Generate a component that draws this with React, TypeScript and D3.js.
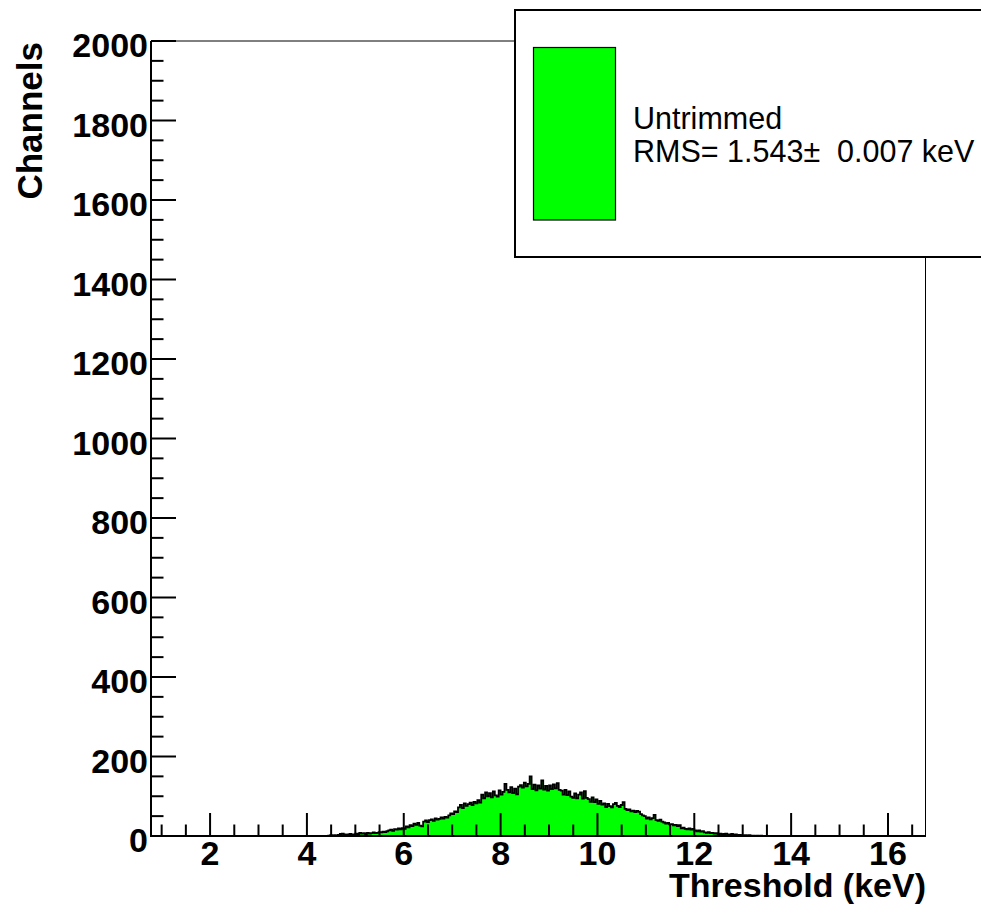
import React from "react";
import * as d3 from "d3";

// Histogram: counts per 0.04 keV bin, starting at 4.40 keV
const BIN_START = 4.4;
const BIN_WIDTH = 0.04;
const counts: number[] = [
  // 4.4 - 5.4
  0, 1, 2, 1, 2, 1, 3, 5, 6, 4, 3, 4, 5, 3, 4, 6, 5, 8, 6, 7, 5, 8, 6, 7, 9,
  // 5.4 - 6.4
  7, 8, 10, 9, 11, 10, 12, 14, 16, 13, 17, 16, 19, 17, 20, 18, 24, 22, 27, 25, 31, 28, 33, 26, 24,
  // 6.4 - 7.4
  36, 39, 35, 40, 42, 38, 44, 41, 43, 47, 44, 48, 46, 52, 57, 55, 62, 60, 72, 78, 70, 82, 76, 80, 84,
  // 7.4 - 8.4
  78, 86, 82, 90, 84, 104, 95, 110, 100, 108, 97, 112, 102, 99, 115, 104, 111, 131, 116, 110, 123, 108, 119, 105, 124,
  // 8.4 - 9.4
  128, 122, 134, 125, 131, 150, 118, 129, 115, 127, 119, 140, 117, 126, 114, 127, 118, 130, 120, 133, 116, 114, 104, 116, 103,
  // 9.4 - 10.4
  112, 99, 96, 107, 95, 104, 110, 94, 113, 96, 93, 86, 97, 85, 92, 81, 88, 79, 82, 73, 81, 75, 72, 80, 83,
  // 10.4 - 11.4
  76, 73, 78, 85, 68, 65, 67, 62, 64, 60, 63, 61, 55, 52, 50, 44, 47, 42, 45, 53, 40, 38, 41, 36, 34,
  // 11.4 - 12.4
  31, 33, 29, 30, 27, 28, 25, 27, 19, 21, 18, 17, 19, 16, 18, 14, 12, 14, 11, 12, 9, 8, 10, 7, 8,
  // 12.4 - 13.4
  6, 7, 5, 6, 4, 5, 6, 4, 3, 5, 3, 4, 2, 3, 2, 1, 2, 1, 2, 1, 1, 0, 1, 0, 1,
];

const xMajorTicks = [2, 4, 6, 8, 10, 12, 14, 16];
const xTickLabels = ["2", "4", "6", "8", "10", "12", "14", "16"];
const xMinorTicks = [1, 1.5, 2.5, 3, 3.5, 4.5, 5, 5.5, 6.5, 7, 7.5, 8.5, 9, 9.5, 10.5, 11, 11.5, 12.5, 13, 13.5, 14.5, 15, 15.5, 16.5];
const yMajorTicks = [0, 200, 400, 600, 800, 1000, 1200, 1400, 1600, 1800, 2000];
const yMinorStep = 50;

const X_DOMAIN: [number, number] = [0.78, 16.775];
const Y_DOMAIN: [number, number] = [0, 2000];

const legendLabel = "Untrimmed";
const legendStat = "RMS= 1.543\u00b1  0.007 keV";
const xTitle = "Threshold (keV)";
const yTitle = "Channels";

const GREEN = "#00ff00";
const FONT = "'Liberation Sans', Arial, Helvetica, sans-serif";

export default function App() {
  const left = 151, right = 925.5, top = 41, bottom = 836;
  const x = d3.scaleLinear().domain(X_DOMAIN).range([left, right]);
  const y = d3.scaleLinear().domain(Y_DOMAIN).range([bottom, top]);

  const pts: [number, number][] = [];
  pts.push([BIN_START, 0]);
  counts.forEach((c, i) => pts.push([BIN_START + i * BIN_WIDTH, c]));
  const endEdge = BIN_START + counts.length * BIN_WIDTH;
  pts.push([endEdge, counts[counts.length - 1]]);
  pts.push([endEdge, 0]);

  const area = d3
    .area<[number, number]>()
    .x((d) => x(d[0]))
    .y0(y(0))
    .y1((d) => y(d[1]))
    .curve(d3.curveStepAfter);
  const line = d3
    .line<[number, number]>()
    .x((d) => x(d[0]))
    .y((d) => y(d[1]))
    .curve(d3.curveStepAfter);

  const yMinor = d3.range(0, 2000 + 1, yMinorStep).filter((v) => v % 200 !== 0);

  return (
    <svg
      width={981}
      height={915}
      style={{ position: "absolute", left: 0, top: 0, background: "#fff" }}
      fontFamily={FONT}
    >
      <rect x={0} y={0} width={981} height={915} fill="#fff" />
      {/* frame top/right */}
      <line x1={left} x2={right} y1={top} y2={top} stroke="#000" strokeWidth={1} />
      <line x1={right} x2={right} y1={top} y2={bottom} stroke="#000" strokeWidth={1} />

      {/* histogram */}
      <path d={area(pts) || ""} fill={GREEN} stroke="none" />
      <path d={line(pts) || ""} fill="none" stroke="#000" strokeWidth={1.8} />

      {/* axes */}
      <line x1={left} x2={right + 0.5} y1={bottom} y2={bottom} stroke="#000" strokeWidth={2} />
      <line x1={left} x2={left} y1={top} y2={bottom + 1} stroke="#000" strokeWidth={2} />

      {/* x ticks */}
      {xMajorTicks.map((t) => (
        <line key={"xM" + t} x1={x(t)} x2={x(t)} y1={bottom} y2={bottom - 23} stroke="#000" strokeWidth={2} />
      ))}
      {xMinorTicks.map((t) => (
        <line key={"xm" + t} x1={x(t)} x2={x(t)} y1={bottom} y2={bottom - 11.5} stroke="#000" strokeWidth={2} />
      ))}
      {xMajorTicks.map((t, i) => (
        <text key={"xl" + t} x={x(t)} y={865} textAnchor="middle" fontSize={34} fontWeight="bold">
          {xTickLabels[i]}
        </text>
      ))}

      {/* y ticks */}
      {yMajorTicks.map((t) => (
        <line key={"yM" + t} x1={left} x2={left + 25} y1={y(t)} y2={y(t)} stroke="#000" strokeWidth={2} />
      ))}
      {yMinor.map((t) => (
        <line key={"ym" + t} x1={left} x2={left + 12.5} y1={y(t)} y2={y(t)} stroke="#000" strokeWidth={2} />
      ))}
      {yMajorTicks.map((t) => (
        <text key={"yl" + t} x={148} y={y(t) + 16} textAnchor="end" fontSize={34} fontWeight="bold">
          {t}
        </text>
      ))}

      {/* axis titles */}
      <text x={926} y={897} textAnchor="end" fontSize={34} fontWeight="bold">
        {xTitle}
      </text>
      <text transform="translate(42,42) rotate(-90)" textAnchor="end" fontSize={35} fontWeight="bold">
        {yTitle}
      </text>

      {/* legend */}
      <rect x={515} y={10} width={500} height={247} fill="#fff" stroke="#000" strokeWidth={2} />
      <rect x={533.5} y={47.5} width={82} height={172.5} fill={GREEN} stroke="#000" strokeWidth={1.2} />
      <text x={633} y={129} fontSize={30.5}>
        {legendLabel}
      </text>
      <text x={633} y={162} fontSize={30.5} style={{ whiteSpace: "pre" }}>
        {legendStat}
      </text>
    </svg>
  );
}
